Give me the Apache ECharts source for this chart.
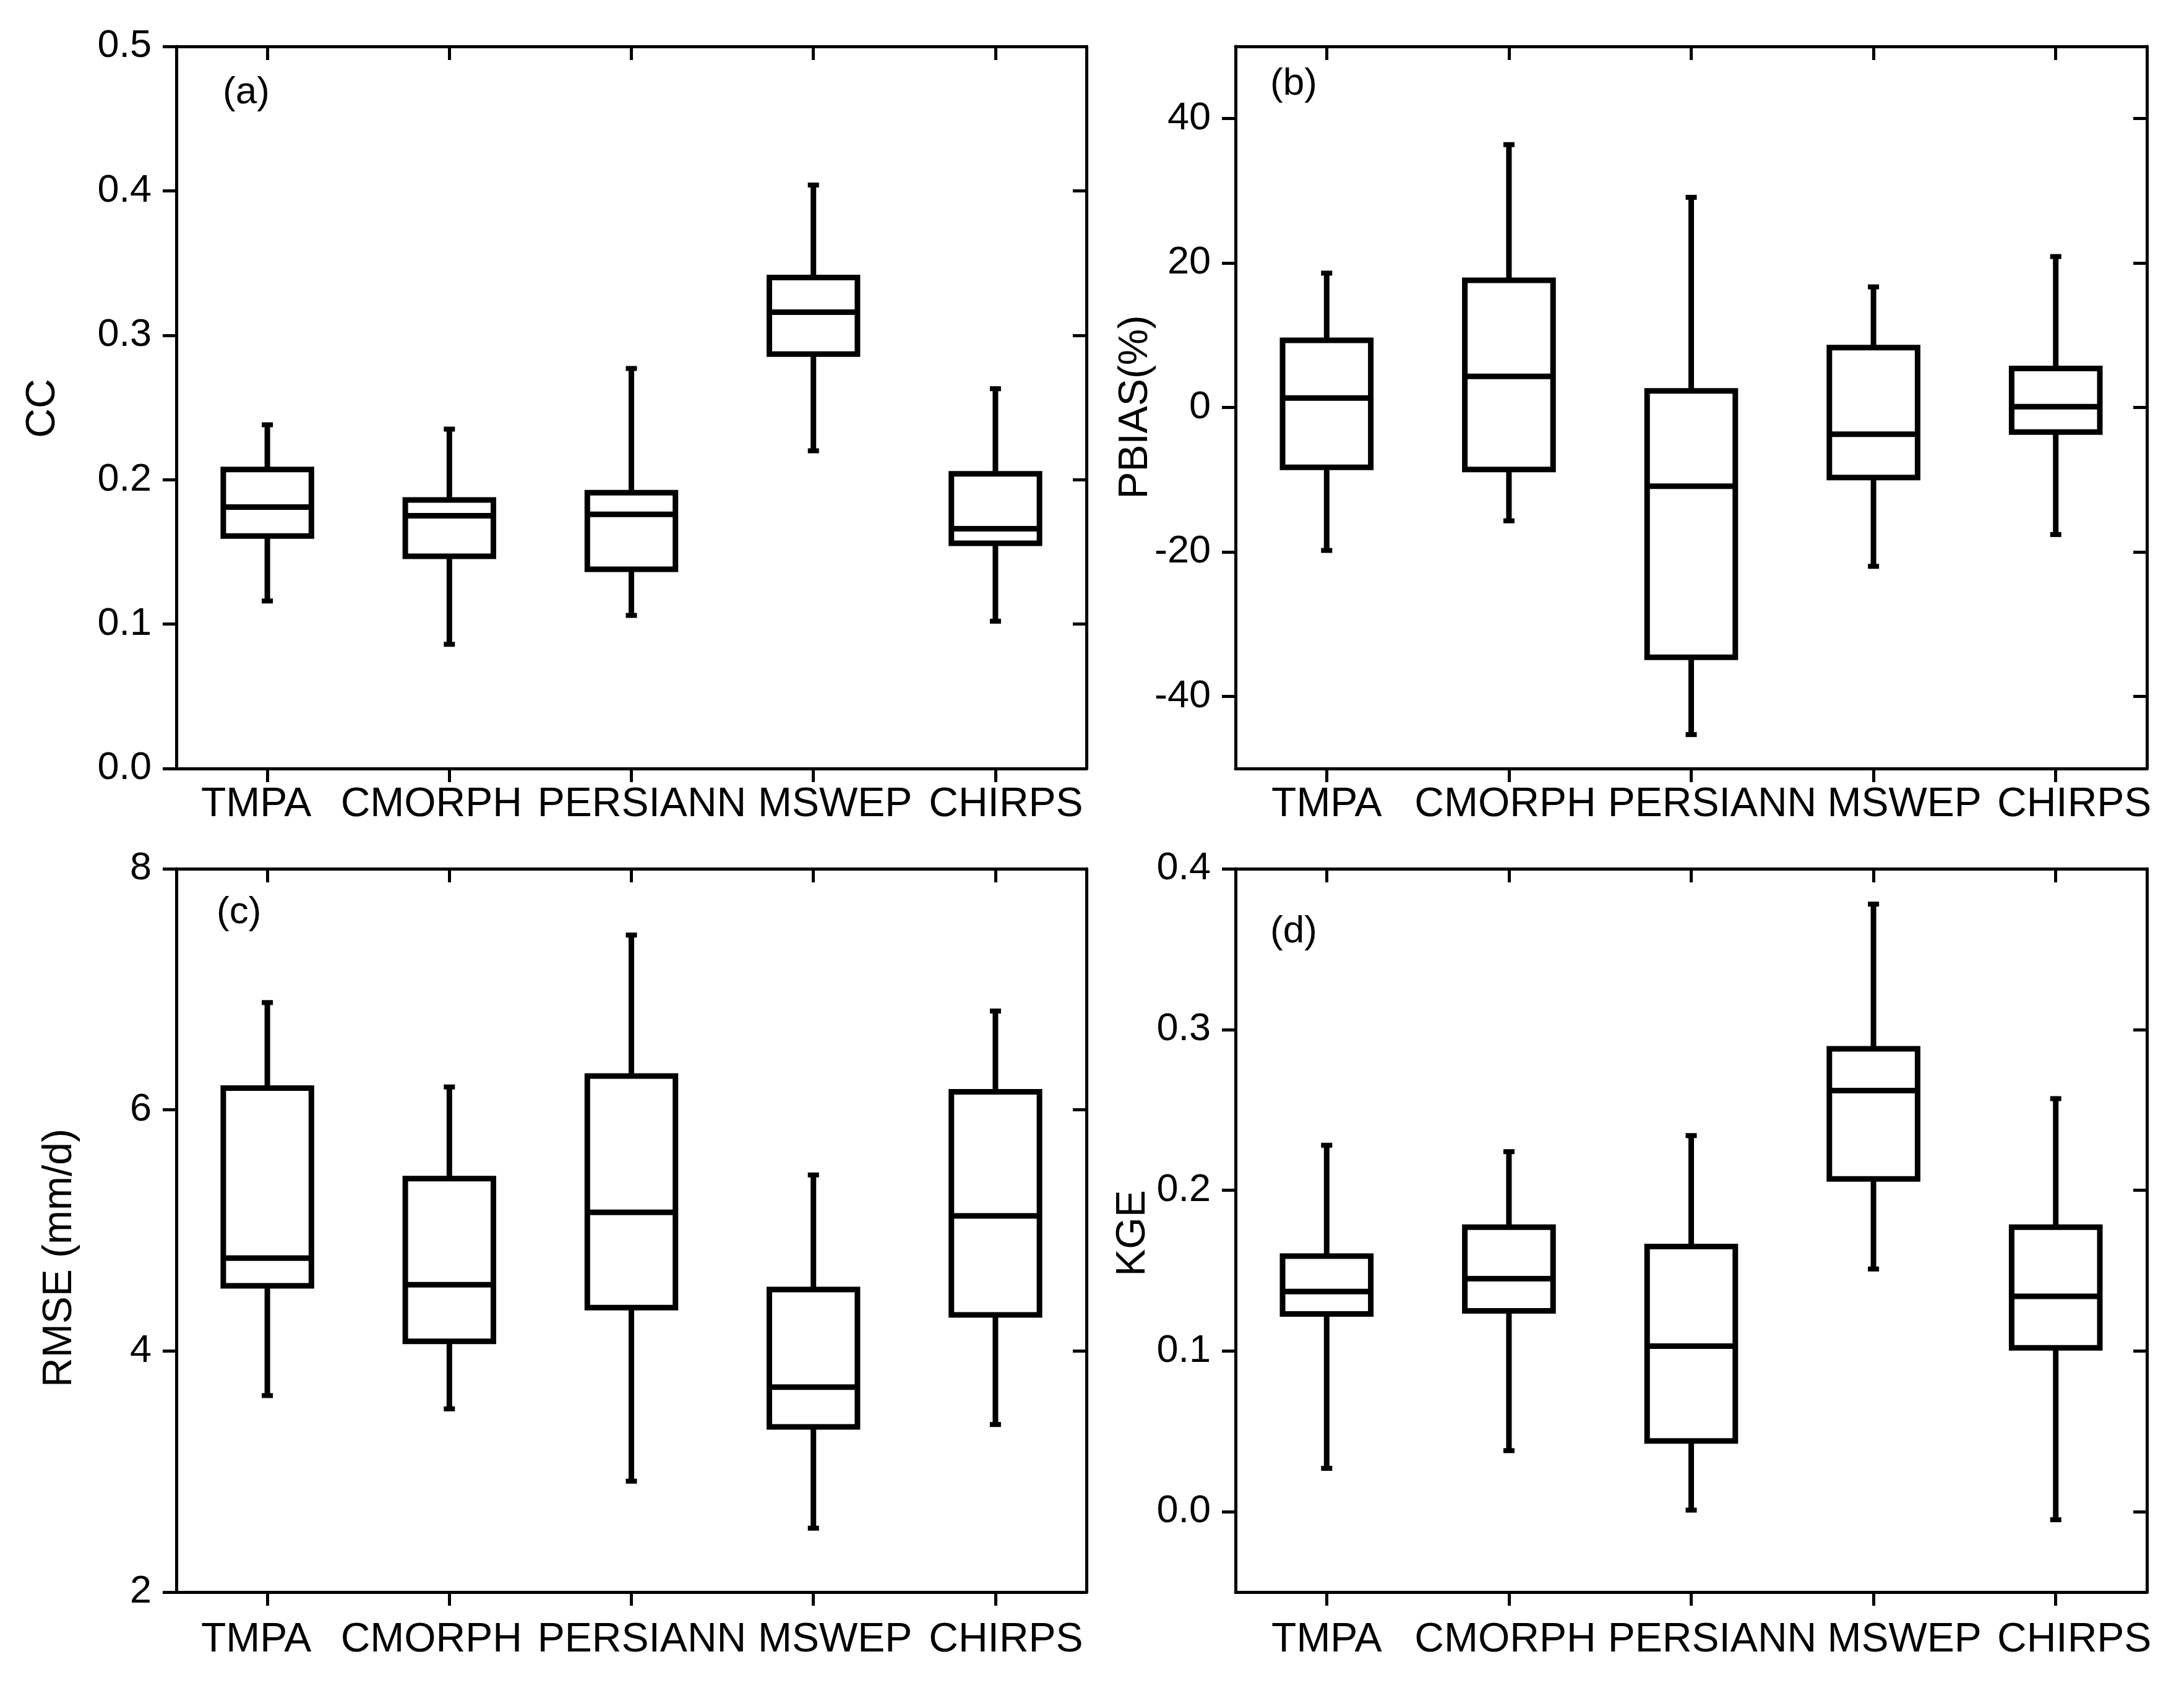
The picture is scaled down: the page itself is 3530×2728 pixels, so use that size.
<!DOCTYPE html>
<html>
<head>
<meta charset="utf-8">
<title>Box plots</title>
<script src="https://cdn.jsdelivr.net/npm/echarts@6/dist/echarts.min.js"></script>
<style>
    html, body { margin: 0; padding: 0; background: #fff; }
    #main { width: 3530px; height: 2728px; }
</style>
</head>
<body>
<div id="main"></div>
<script>
var categories = ['TMPA', 'CMORPH', 'PERSIANN', 'MSWEP', 'CHIRPS'];

// each row: [lower whisker, Q1, median, Q3, upper whisker]
var ccData = [
    [0.116, 0.161, 0.181, 0.207, 0.238],
    [0.086, 0.147, 0.175, 0.186, 0.235],
    [0.106, 0.138, 0.176, 0.191, 0.277],
    [0.220, 0.287, 0.316, 0.340, 0.404],
    [0.102, 0.156, 0.166, 0.204, 0.263]
];
var pbiasData = [
    [-19.8, -8.3, 1.3, 9.3, 18.6],
    [-15.7, -8.6, 4.3, 17.6, 36.4],
    [-45.3, -34.6, -10.9, 2.3, 29.1],
    [-22.0, -9.7, -3.7, 8.3, 16.7],
    [-17.6, -3.4, 0.1, 5.4, 20.9]
];
var rmseData = [
    [3.63, 4.54, 4.77, 6.18, 6.89],
    [3.52, 4.08, 4.55, 5.43, 6.19],
    [2.92, 4.36, 5.15, 6.28, 7.45],
    [2.53, 3.37, 3.70, 4.51, 5.46],
    [3.39, 4.30, 5.12, 6.15, 6.82]
];
var kgeData = [
    [0.027, 0.123, 0.137, 0.159, 0.228],
    [0.038, 0.125, 0.145, 0.177, 0.224],
    [0.001, 0.044, 0.103, 0.165, 0.234],
    [0.151, 0.207, 0.262, 0.288, 0.378],
    [-0.005, 0.102, 0.134, 0.177, 0.257]
];

var ccTicks = [0, 0.1, 0.2, 0.3, 0.4, 0.5];
var pbiasTicks = [-40, -20, 0, 20, 40];
var rmseTicks = [2, 4, 6, 8];
var kgeTicks = [0, 0.1, 0.2, 0.3, 0.4];

var FONT = "'Liberation Sans', Arial, sans-serif";

// the category labels in the original are nudged sideways so they don't run together
var shiftLeft = [-18, -29, 17, 35, 17];
var shiftRight = [0, -6, 34, 50, 30];

var panels = [
    { data: ccData, ticks: ccTicks, min: 0, max: 0.5, digits: 1, name: 'CC', tag: '(a)',
      grid: { left: 285, top: 75, width: 1471, height: 1167 }, labelMargin: 26, shift: shiftLeft,
      nameX: 70, nameY: 660, tagX: 360, tagY: 150 },
    { data: pbiasData, ticks: pbiasTicks, min: -50, max: 50, digits: 0, name: 'PBIAS(%)', tag: '(b)',
      grid: { left: 1997, top: 75, width: 1473, height: 1167 }, labelMargin: 26, shift: shiftRight,
      nameX: 1836, nameY: 658, tagX: 2053, tagY: 136 },
    { data: rmseData, ticks: rmseTicks, min: 2, max: 8, digits: 0, name: 'RMSE (mm/d)', tag: '(c)',
      grid: { left: 285, top: 1404, width: 1471, height: 1169 }, labelMargin: 45, shift: shiftLeft,
      nameX: 97, nameY: 2033, tagX: 350, tagY: 1475 },
    { data: kgeData, ticks: kgeTicks, min: -0.05, max: 0.4, digits: 1, name: 'KGE', tag: '(d)',
      grid: { left: 1997, top: 1404, width: 1473, height: 1169 }, labelMargin: 45, shift: shiftRight,
      nameX: 1832, nameY: 1993, tagX: 2053, tagY: 1506 }
];

function renderBox(params, api) {
    var i = api.value(0);
    var low = api.coord([i, api.value(1)]);
    var q1 = api.coord([i, api.value(2)]);
    var med = api.coord([i, api.value(3)]);
    var q3 = api.coord([i, api.value(4)]);
    var high = api.coord([i, api.value(5)]);
    var half = api.size([1, 0])[0] * 0.242;
    var cx = low[0];
    var st = { stroke: '#000', lineWidth: 9, fill: null, lineJoin: 'miter', lineCap: 'butt' };
    var cap = { stroke: '#000', lineWidth: 8, fill: null, lineCap: 'butt' };
    return {
        type: 'group',
        children: [
            { type: 'line', shape: { x1: cx, y1: high[1], x2: cx, y2: q3[1] }, style: st },
            { type: 'line', shape: { x1: cx, y1: q1[1], x2: cx, y2: low[1] }, style: st },
            { type: 'line', shape: { x1: cx - 9, y1: high[1], x2: cx + 9, y2: high[1] }, style: cap },
            { type: 'line', shape: { x1: cx - 9, y1: low[1], x2: cx + 9, y2: low[1] }, style: cap },
            { type: 'rect', shape: { x: cx - half, y: q3[1], width: half * 2, height: q1[1] - q3[1] },
              style: { stroke: '#000', lineWidth: 9, fill: 'rgba(0,0,0,0)', lineJoin: 'miter' } },
            { type: 'line', shape: { x1: cx - half, y1: med[1], x2: cx + half, y2: med[1] }, style: st }
        ]
    };
}

function shiftedRich(shift) {
    var rich = {};
    shift.forEach(function(d, i) {
        rich['c' + i] = { padding: d > 0 ? [0, 0, 0, 2 * d] : [0, -2 * d, 0, 0] };
    });
    return rich;
}

var axisLine = { show: true, onZero: false, lineStyle: { color: '#000', width: 5 } };
var tickStyle = { color: '#000', width: 5 };

var grids = [], xAxes = [], yAxes = [], series = [], graphics = [];

panels.forEach(function(p, k) {
    grids.push(p.grid);

    xAxes.push({
        gridIndex: k, type: 'category', data: categories, position: 'bottom',
        axisLine: axisLine,
        axisTick: { show: true, alignWithLabel: true, length: 22, lineStyle: tickStyle },
        axisLabel: {
            interval: 0, fontSize: 66, color: '#000', fontFamily: FONT, margin: p.labelMargin,
            formatter: function(v, i) { return '{c' + i + '|' + v + '}'; },
            rich: shiftedRich(p.shift)
        },
        splitLine: { show: false }
    });
    xAxes.push({
        gridIndex: k, type: 'category', data: categories, position: 'top',
        axisLine: axisLine,
        axisTick: { show: true, inside: true, alignWithLabel: true, length: 22, lineStyle: tickStyle },
        axisLabel: { show: false },
        splitLine: { show: false }
    });

    yAxes.push({
        gridIndex: k, type: 'value', min: p.min, max: p.max, position: 'left',
        axisLine: axisLine,
        axisTick: { show: true, length: 22, lineStyle: tickStyle, customValues: p.ticks },
        axisLabel: {
            customValues: p.ticks, fontSize: 63, color: '#000', fontFamily: FONT, margin: 40,
            formatter: function(v) { return Number(v).toFixed(p.digits); }
        },
        splitLine: { show: false }
    });
    yAxes.push({
        gridIndex: k, type: 'value', min: p.min, max: p.max, position: 'right',
        axisLine: axisLine,
        axisTick: { show: true, inside: true, length: 22, lineStyle: tickStyle, customValues: p.ticks },
        axisLabel: { show: false },
        splitLine: { show: false }
    });

    series.push({
        type: 'custom',
        xAxisIndex: k * 2,
        yAxisIndex: k * 2,
        renderItem: renderBox,
        encode: { x: 0, y: [1, 2, 3, 4, 5] },
        data: p.data.map(function(row, i) { return [i].concat(row); }),
        silent: true
    });

    // y axis title and panel tag
    graphics.push({
        type: 'text', x: p.nameX, y: p.nameY, rotation: Math.PI / 2,
        style: { text: p.name, fontSize: 66, fontFamily: FONT, fill: '#000', align: 'center', verticalAlign: 'middle' }
    });
    graphics.push({
        type: 'text', x: p.tagX, y: p.tagY,
        style: { text: p.tag, fontSize: 62, fontFamily: FONT, fill: '#000', align: 'left', verticalAlign: 'middle' }
    });
});

var chart = echarts.init(document.getElementById('main'), null, { renderer: 'canvas' });
chart.setOption({
    backgroundColor: '#fff',
    animation: false,
    grid: grids,
    xAxis: xAxes,
    yAxis: yAxes,
    series: series,
    graphic: graphics
});
</script>
</body>
</html>
